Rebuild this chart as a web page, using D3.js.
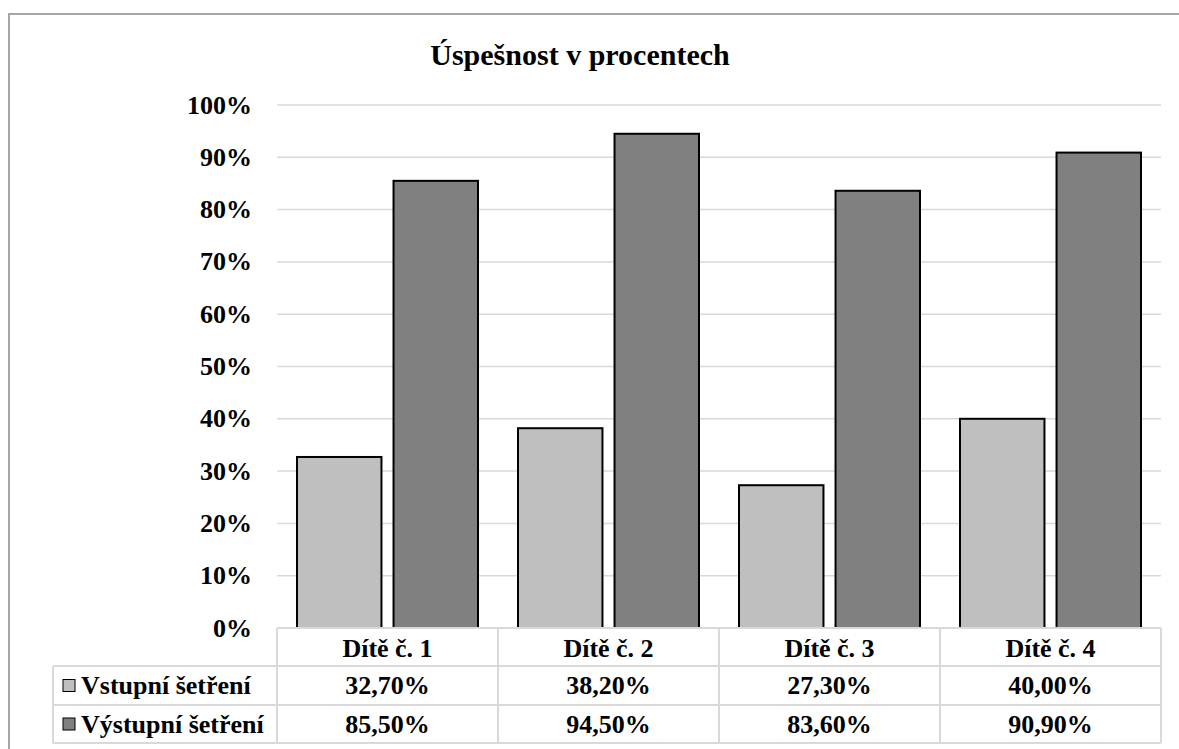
<!DOCTYPE html>
<html>
<head>
<meta charset="utf-8">
<script src="https://cdn.jsdelivr.net/npm/d3@7"></script>
<style>
    body { margin: 0; background: white; }
</style>
</head>
<body>
<div id="canvas"></div>
<script>
"use strict"

/* Data */
let categories = ["Dítě č. 1", "Dítě č. 2", "Dítě č. 3", "Dítě č. 4"];
let seriesNames = ["Vstupní šetření", "Výstupní šetření"];
let vstupni = [0.327, 0.382, 0.273, 0.400];
let vystupni = [0.855, 0.945, 0.836, 0.909];
let yTicks = [0, 0.1, 0.2, 0.3, 0.4, 0.5, 0.6, 0.7, 0.8, 0.9, 1.0];

/* Drawing config */
let svgWidth = 1179;
let svgHeight = 749;
let plotLeft = 277;
let plotRight = 1161;
let plotTop = 105;
let plotBottom = 628;
let tableLeft = 53;
let rowLines = [628, 666, 705, 743];
let seriesColors = ["#bfbfbf", "#808080"];
let gridColor = "#d9d9d9";
let fontFamily = "'Liberation Serif', 'DejaVu Serif', serif";

let svg = d3.select("#canvas")
    .append("svg")
    .attr("width", svgWidth)
    .attr("height", svgHeight)
    .style("font-family", fontFamily)
    .style("font-weight", "bold");

/* outer chart border (runs off the picture right and bottom) */
svg.append("rect")
    .attr("x", 9)
    .attr("y", 14)
    .attr("width", 1200)
    .attr("height", 760)
    .attr("fill", "white")
    .attr("stroke", "#a6a6a6")
    .attr("stroke-width", 2);

/* Scales */
let xScale = d3.scaleBand()
    .domain(categories)
    .range([plotLeft, plotRight]);

let xSub = d3.scaleBand()
    .domain(seriesNames)
    .range([20, xScale.bandwidth() - 20])
    .paddingInner(0.125);

let yScale = d3.scaleLinear()
    .domain([0, 1])
    .range([plotBottom, plotTop]);

/* gridlines */
svg.selectAll(".grid")
    .data(yTicks.slice(1))
    .join("line")
    .attr("class", "grid")
    .attr("x1", plotLeft)
    .attr("x2", plotRight)
    .attr("y1", d => yScale(d))
    .attr("y2", d => yScale(d))
    .attr("stroke", gridColor)
    .attr("stroke-width", 1.5);

/* y tick labels */
svg.selectAll(".ytick")
    .data(yTicks)
    .join("text")
    .attr("class", "ytick")
    .attr("x", 252)
    .attr("y", d => yScale(d))
    .attr("text-anchor", "end")
    .attr("dominant-baseline", "central")
    .style("font-family", fontFamily)
    .style("font-size", "26px")
    .text(d => Math.round(d * 100) + "%");

/* bars */
let seriesValues = [vstupni, vystupni];
for (let s = 0; s < 2; s++) {
    svg.selectAll(".bar" + s)
        .data(categories)
        .join("rect")
        .attr("class", "bar" + s)
        .attr("x", (d) => xScale(d) + xSub(seriesNames[s]))
        .attr("width", xSub.bandwidth())
        .attr("y", (d, i) => yScale(seriesValues[s][i]))
        .attr("height", (d, i) => yScale(0) - yScale(seriesValues[s][i]))
        .attr("fill", seriesColors[s])
        .attr("stroke", "black")
        .attr("stroke-width", 2);
}

/* data table lines */
svg.append("line")
    .attr("x1", plotLeft).attr("x2", plotRight)
    .attr("y1", rowLines[0]).attr("y2", rowLines[0])
    .attr("stroke", gridColor).attr("stroke-width", 2);
for (let i = 1; i < rowLines.length; i++) {
    svg.append("line")
        .attr("x1", tableLeft).attr("x2", plotRight)
        .attr("y1", rowLines[i]).attr("y2", rowLines[i])
        .attr("stroke", gridColor).attr("stroke-width", 2);
}
svg.append("line")
    .attr("x1", tableLeft).attr("x2", tableLeft)
    .attr("y1", rowLines[1]).attr("y2", rowLines[3])
    .attr("stroke", gridColor).attr("stroke-width", 2);
let colEdges = categories.map(c => xScale(c)).concat([plotRight]);
colEdges.forEach(function (x) {
    svg.append("line")
        .attr("x1", x).attr("x2", x)
        .attr("y1", rowLines[0]).attr("y2", rowLines[3])
        .attr("stroke", gridColor).attr("stroke-width", 2);
});

/* category header row */
svg.selectAll(".cat")
    .data(categories)
    .join("text")
    .attr("class", "cat")
    .attr("x", d => xScale(d) + xScale.bandwidth() / 2)
    .attr("y", (rowLines[0] + rowLines[1]) / 2 + 1)
    .attr("text-anchor", "middle")
    .attr("dominant-baseline", "central")
    .style("font-family", fontFamily)
    .style("font-size", "26px")
    .text(d => d);

/* value rows with legend keys */
for (let s = 0; s < 2; s++) {
    let rowMid = (rowLines[s + 1] + rowLines[s + 2]) / 2;
    svg.append("rect")
        .attr("x", 63)
        .attr("y", rowMid - 6)
        .attr("width", 12)
        .attr("height", 12)
        .attr("fill", seriesColors[s])
        .attr("stroke", "black")
        .attr("stroke-width", 1);
    svg.append("text")
        .attr("x", 81)
        .attr("y", rowMid)
        .attr("dominant-baseline", "central")
        .style("font-family", fontFamily)
        .style("font-size", "26px")
        .text(seriesNames[s]);
    svg.selectAll(".val" + s)
        .data(categories)
        .join("text")
        .attr("class", "val" + s)
        .attr("x", d => xScale(d) + xScale.bandwidth() / 2)
        .attr("y", rowMid)
        .attr("text-anchor", "middle")
        .attr("dominant-baseline", "central")
        .style("font-family", fontFamily)
        .style("font-size", "26px")
        .text((d, i) => (seriesValues[s][i] * 100).toFixed(2).replace(".", ",") + "%");
}

/* title */
svg.append("text")
    .attr("x", 580)
    .attr("y", 65)
    .attr("text-anchor", "middle")
    .style("font-family", fontFamily)
    .style("font-size", "30px")
    .text("Úspešnost v procentech");
</script>
</body>
</html>
